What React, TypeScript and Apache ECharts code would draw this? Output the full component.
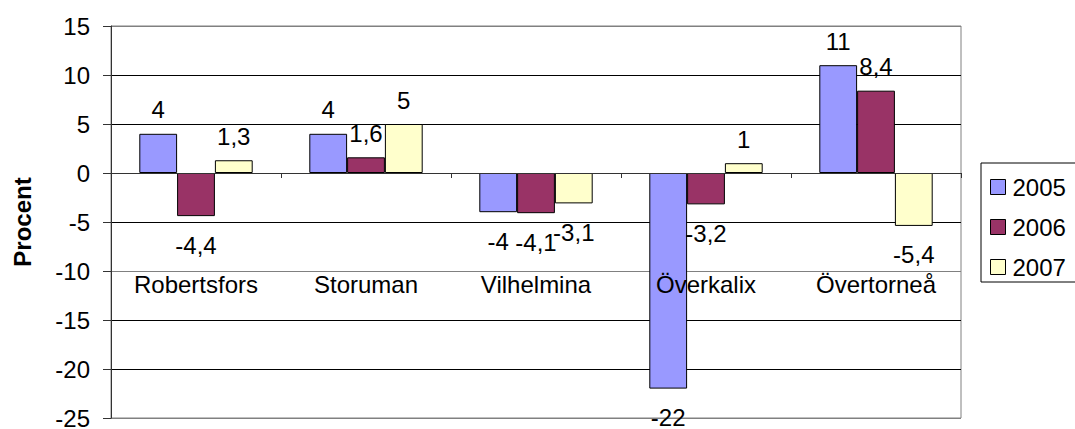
import React, { useEffect, useRef } from "react";
import * as echarts from "echarts";

const categories = ["Robertsfors", "Storuman", "Vilhelmina", "Överkalix", "Övertorneå"];
const seriesNames = ["2005", "2006", "2007"];
const values2005 = [4, 4, -4, -22, 11];
const values2006 = [-4.4, 1.6, -4.1, -3.2, 8.4];
const values2007 = [1.3, 5, -3.1, 1, -5.4];
const seriesColors = ["#9999FF", "#993366", "#FFFFCC"];
const yTicks = { min: -25, max: 15, interval: 5 };

const FONT = "'Liberation Sans', Arial, sans-serif";
const FS = 24;

export default function App() {
  const ref = useRef<HTMLDivElement>(null);
  useEffect(() => {
    if (!ref.current) return;
    const chart = echarts.init(ref.current, null, { renderer: "svg" });
    const allValues = [values2005, values2006, values2007];
    const series = allValues.map((vals, i) => ({
      name: seriesNames[i],
      type: "bar",
      barGap: "0%",
      barCategoryGap: "33.3%",
      itemStyle: { color: seriesColors[i], borderColor: "#000", borderWidth: 1 },
      data: vals.map((v) => ({
        value: v,
        label: {
          show: true,
          position: v < 0 ? "bottom" : "top",
          distance: v < 0 ? 17 : 12,
          formatter: () => String(v).replace(".", ","),
          color: "#000",
          fontFamily: FONT,
          fontSize: FS,
        },
      })),
    }));
    const splitColors = ["#808080", "#000", "#000", "#808080", "#000", "#000", "#000", "#000", "#808080"];
    chart.setOption({
      animation: false,
      backgroundColor: "#fff",
      textStyle: { fontFamily: FONT },
      grid: {
        left: 111,
        right: 114,
        top: 26,
        bottom: 11,
        containLabel: false,
        outerBoundsMode: "none",
        show: true,
        borderColor: "#808080",
        borderWidth: 1,
      },
      legend: {
        orient: "vertical",
        left: 981,
        top: 163,
        padding: [12, 12, 3, 9],
        itemWidth: 15,
        itemHeight: 15,
        itemGap: 16,
        borderColor: "#000",
        borderWidth: 1,
        icon: "rect",
        itemStyle: { borderColor: "#000", borderWidth: 1 },
        textStyle: { fontFamily: FONT, fontSize: FS, color: "#000", padding: [0, 0, 0, 2] },
        data: seriesNames,
      },
      xAxis: {
        type: "category",
        data: categories,
        z: 5,
        axisLine: { onZero: true, lineStyle: { color: "#333", width: 1 } },
        axisTick: { show: true, length: 5, inside: false, alignWithLabel: false, lineStyle: { color: "#333" } },
        axisLabel: { margin: -146, fontSize: FS, color: "#000", fontFamily: FONT, interval: 0 },
        splitLine: { show: false },
      },
      yAxis: {
        type: "value",
        min: yTicks.min,
        max: yTicks.max,
        interval: yTicks.interval,
        name: "Procent",
        nameLocation: "middle",
        nameGap: 77,
        nameTextStyle: { fontFamily: FONT, fontSize: FS, fontWeight: "bold", color: "#000" },
        axisLine: { show: true, lineStyle: { color: "#333", width: 1 } },
        axisTick: { show: true, length: 8, lineStyle: { color: "#333" } },
        axisLabel: { margin: 21, fontSize: FS, color: "#000", fontFamily: FONT },
        splitLine: { show: true, lineStyle: { color: splitColors, width: 1 } },
      },
      series,
    });
    return () => chart.dispose();
  }, []);
  return (
    <div
      ref={ref}
      style={{ position: "absolute", left: 0, top: 0, width: 1075, height: 429, background: "#fff" }}
    />
  );
}
